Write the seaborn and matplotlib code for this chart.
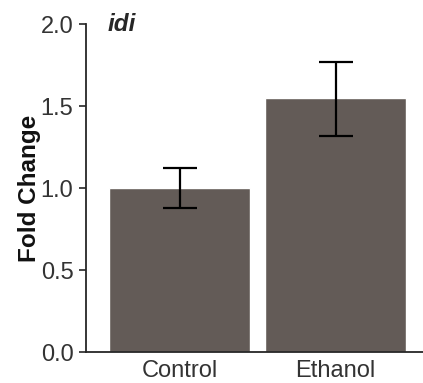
import matplotlib
matplotlib.use("Agg")
import matplotlib.pyplot as plt
import seaborn as sns
import pandas as pd
import numpy as np

categories = ["Control", "Ethanol"]
values = [1.00, 1.55]
err_low = [0.12, 0.23]
err_high = [0.12, 0.22]
yticks = [0.0, 0.5, 1.0, 1.5, 2.0]
gene_label = "idi"
y_label = "Fold Change"

sns.set_style("ticks")
plt.rcParams['font.family'] = ['Liberation Sans', 'DejaVu Sans']

df = pd.DataFrame({"group": categories, "fc": values})

fig = plt.figure(figsize=(4.23, 3.83), dpi=100)
ax = fig.add_axes([0.2033, 0.0809, 0.7967, 0.856])

sns.barplot(data=df, x="group", y="fc", color="#635b57", saturation=1,
            width=0.9, errorbar=None, ax=ax)
ax.errorbar(np.arange(len(categories)), values, yerr=[err_low, err_high],
            fmt="none", ecolor="black", elinewidth=1.6, capsize=12, capthick=1.6)

ax.set_ylim(0, 2.0)
ax.set_xlim(-0.6, 1.56)
ax.set_yticks(yticks)
ax.set_yticklabels([f"{t:.1f}" for t in yticks], fontsize=17, color="#333333")
ax.set_xticks(range(len(categories)))
ax.set_xticklabels(categories, fontsize=17, color="#333333")
ax.set_xlabel("")
ax.set_ylabel(y_label, fontsize=17.5, fontweight="bold", labelpad=0, color="#111111")
ax.tick_params(axis="y", length=5, width=1.2, pad=4)
ax.tick_params(axis="x", length=0, pad=6)
for s in ["top", "right"]:
    ax.spines[s].set_visible(False)
for s in ["left", "bottom"]:
    ax.spines[s].set_linewidth(1.3)
ax.text(0.063, 1.0, gene_label, transform=ax.transAxes, fontsize=17.5,
        fontweight="bold", fontstyle="italic", va="center", ha="left")

fig.savefig("out.png", dpi=100)
